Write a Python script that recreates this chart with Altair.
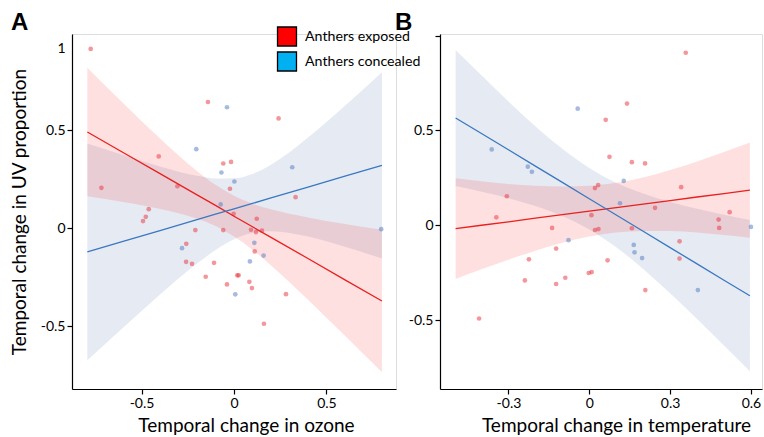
import altair as alt
import pandas as pd

FONT = "Lato"

# ---------------- Panel A : ozone ----------------
a_red_x = [-0.775, -0.717, -0.407, -0.306, -0.461, -0.477, -0.492, -0.141, -0.058, -0.016, -0.022,
           0.241, 0.333, -0.002, 0.123, -0.209, -0.058, 0.092, 0.119, 0.151, -0.258, -0.259, -0.227,
           -0.108, -0.153, 0.018, 0.025, -0.038, 0.083, 0.097, 0.112, 0.281, 0.162]
a_red_y = [0.915, 0.206, 0.366, 0.214, 0.097, 0.058, 0.036, 0.644, 0.330, 0.338, 0.201,
           0.560, 0.158, 0.073, 0.048, -0.010, -0.010, -0.008, -0.020, -0.013, -0.080, -0.172, -0.182,
           -0.177, -0.248, -0.241, -0.241, -0.287, -0.274, -0.306, -0.119, -0.337, -0.488]
a_blue_x = [-0.038, -0.204, -0.068, 0.002, 0.315, -0.072, 0.796, -0.281, 0.110, 0.160, 0.086, 0.007]
a_blue_y = [0.617, 0.403, 0.284, 0.238, 0.311, 0.121, -0.005, -0.102, -0.075, -0.140, -0.170, -0.338]

a_fit_x = [-0.793, -0.6, -0.4, -0.2, -0.1, 0.0, 0.1, 0.2, 0.4, 0.6, 0.8]
a_red_fit = [0.491, 0.386, 0.278, 0.170, 0.116, 0.061, 0.007, -0.047, -0.155, -0.264, -0.372]
a_red_hi = [0.819, 0.639, 0.458, 0.292, 0.221, 0.165, 0.125, 0.096, 0.055, 0.021, -0.008]
a_red_lo = [0.163, 0.133, 0.098, 0.048, 0.011, -0.043, -0.111, -0.190, -0.365, -0.549, -0.736]
a_blue_fit = [-0.121, -0.068, -0.012, 0.043, 0.071, 0.099, 0.126, 0.154, 0.210, 0.265, 0.321]
a_blue_hi = [0.432, 0.373, 0.315, 0.267, 0.254, 0.255, 0.277, 0.324, 0.463, 0.625, 0.796]
a_blue_lo = [-0.674, -0.508, -0.339, -0.181, -0.112, -0.057, -0.025, -0.016, -0.043, -0.095, -0.155]

# ---------------- Panel B : temperature ----------------
b_red_x = [0.358, 0.140, 0.061, 0.075, 0.158, 0.207, 0.033, 0.021, 0.341, -0.306, 0.244, 0.008,
           -0.345, 0.521, 0.480, -0.138, 0.021, 0.034, 0.158, 0.482, -0.123, -0.224, 0.068, -0.239,
           -0.123, -0.089, -0.002, 0.009, 0.208, 0.335, 0.335, -0.409]
b_red_y = [0.910, 0.642, 0.556, 0.361, 0.333, 0.326, 0.212, 0.196, 0.201, 0.153, 0.092, 0.053,
           0.042, 0.069, 0.030, -0.014, -0.025, -0.020, -0.016, -0.014, -0.123, -0.180, -0.185, -0.291,
           -0.310, -0.277, -0.252, -0.247, -0.342, -0.085, -0.176, -0.492]
b_blue_x = [-0.043, -0.362, -0.228, -0.213, 0.128, 0.114, 0.600, -0.077, 0.165, 0.168, 0.196, 0.403]
b_blue_y = [0.615, 0.400, 0.309, 0.282, 0.234, 0.116, -0.009, -0.079, -0.104, -0.143, -0.173, -0.342]

b_fit_x = [-0.496, -0.4, -0.3, -0.2, -0.1, 0.0, 0.1, 0.2, 0.3, 0.4, 0.5, 0.596]
b_red_fit = [-0.018, 0.000, 0.018, 0.037, 0.056, 0.074, 0.093, 0.111, 0.130, 0.149, 0.167, 0.185]
b_red_hi = [0.248, 0.232, 0.218, 0.208, 0.204, 0.208, 0.224, 0.252, 0.291, 0.336, 0.386, 0.436]
b_red_lo = [-0.284, -0.232, -0.182, -0.134, -0.092, -0.060, -0.038, -0.030, -0.031, -0.038, -0.052, -0.066]
b_blue_fit = [0.566, 0.484, 0.398, 0.312, 0.226, 0.140, 0.054, -0.032, -0.118, -0.204, -0.290, -0.372]
b_blue_hi = [0.925, 0.791, 0.653, 0.522, 0.403, 0.302, 0.224, 0.167, 0.123, 0.087, 0.055, 0.027]
b_blue_lo = [0.207, 0.177, 0.143, 0.102, 0.049, -0.022, -0.116, -0.231, -0.359, -0.495, -0.635, -0.771]

# ---------------- ticks / labels ----------------
a_xticks = [-0.5, 0, 0.5]
a_xlabels = ["-0.5", "0", "0.5"]
a_yticks = [-0.5, 0, 0.5, 0.915]
a_ylabels = ["-0.5", "0", "0.5", "1"]
b_xticks = [-0.3, 0, 0.3, 0.6]
b_xlabels = ["-0.3", "0", "0.3", "0.6"]
b_yticks = [-0.5, 0, 0.5, 1.0]
b_ylabels = ["-0.5", "0", "0.5", ""]

legend_labels = ["Anthers exposed", "Anthers concealed"]
legend_colors = ["#FF0000", "#00B0F0"]
panel_letters = ["A", "B"]

RED_LINE, BLUE_LINE = "#E8201E", "#3A78C0"
RED_PT, BLUE_PT = "#E8303A", "#5B84C4"
RED_BAND, BLUE_BAND = "#FF0000", "#3050A0"


def label_expr(vals, labs):
    expr = "''"
    for v, l in reversed(list(zip(vals, labs))):
        expr = f"abs(datum.value - ({v})) < 0.000001 ? '{l}' : ({expr})"
    return expr


def axis(vals, labs, title, title_pad, hide_above=None, title_x=None):
    kw = dict(values=vals, labelExpr=label_expr(vals, labs), title=title, grid=False,
              domainColor="black", domainWidth=1.2, tickColor="black", tickSize=5, tickWidth=1.2,
              labelColor="black", labelFont=FONT, labelFontSize=14, labelPadding=2, labelFlush=False,
              titleFont=FONT, titleFontSize=19, titleFontWeight="normal", titleColor="black",
              titlePadding=title_pad)
    if hide_above is not None:
        kw["tickOpacity"] = {"condition": {"test": f"datum.value > {hide_above}", "value": 0}, "value": 1}
    if title_x is not None:
        kw["titleX"] = title_x
    return alt.Axis(**kw)


def panel(fx, rf, rh, rl, bf, bh, bl, rx, ry, bx, by, xdom, ydom, xax, yax, w, h, letter, lx, legend=False):
    xs = alt.Scale(domain=xdom, nice=False, zero=False)
    ys = alt.Scale(domain=ydom, nice=False, zero=False)

    def X():
        return alt.X("x:Q", scale=xs, axis=xax)

    def Y(f):
        return alt.Y(f"{f}:Q", scale=ys, axis=yax)

    dr = pd.DataFrame({"x": fx, "fit": rf, "hi": rh, "lo": rl})
    db = pd.DataFrame({"x": fx, "fit": bf, "hi": bh, "lo": bl})
    pr = pd.DataFrame({"x": rx, "y": ry})
    pb = pd.DataFrame({"x": bx, "y": by})

    layers = [
        alt.Chart(db).mark_area(color=BLUE_BAND, opacity=0.12, interpolate="monotone").encode(x=X(), y=Y("lo"), y2="hi"),
        alt.Chart(dr).mark_area(color=RED_BAND, opacity=0.12, interpolate="monotone").encode(x=X(), y=Y("lo"), y2="hi"),
        alt.Chart(pr).mark_circle(size=22, opacity=0.5, color=RED_PT).encode(x=X(), y=Y("y")),
        alt.Chart(pb).mark_circle(size=22, opacity=0.55, color=BLUE_PT).encode(x=X(), y=Y("y")),
        alt.Chart(dr).mark_line(color=RED_LINE, strokeWidth=1.3).encode(x=X(), y=Y("fit")),
        alt.Chart(db).mark_line(color=BLUE_LINE, strokeWidth=1.3).encode(x=X(), y=Y("fit")),
        alt.Chart(pd.DataFrame({"t": [letter]})).mark_text(
            align="left", baseline="middle", font="Liberation Sans", fontSize=24, fontWeight="bold",
            color="black").encode(x=alt.value(lx), y=alt.value(-11), text="t:N"),
    ]
    if legend:
        for i, (lab, col) in enumerate(zip(legend_labels, legend_colors)):
            d = pd.DataFrame({"label": [lab]})
            yy = 2.5 + 25 * i
            layers.append(alt.Chart(d).mark_square(size=360, color=col, opacity=1, stroke="black",
                                                   strokeWidth=1.3).encode(x=alt.value(215), y=alt.value(yy)))
            layers.append(alt.Chart(d).mark_text(align="left", baseline="middle", font=FONT, fontSize=14.2,
                                                 color="black").encode(x=alt.value(233), y=alt.value(yy + 0.5),
                                                                       text="label:N"))
    return alt.layer(*layers).properties(width=w, height=h)


pa = panel(a_fit_x, a_red_fit, a_red_hi, a_red_lo, a_blue_fit, a_blue_hi, a_blue_lo,
           a_red_x, a_red_y, a_blue_x, a_blue_y, [-0.876, 0.876], [-0.821, 0.991],
           axis(a_xticks, a_xlabels, "Temporal change in ozone", 6, title_x=174),
           axis(a_yticks, a_ylabels, "Temporal change in UV proportion", 11, hide_above=0.9),
           324, 355, panel_letters[0], -61, legend=True)
pb = panel(b_fit_x, b_red_fit, b_red_hi, b_red_lo, b_blue_fit, b_blue_hi, b_blue_lo,
           b_red_x, b_red_y, b_blue_x, b_blue_y, [-0.554, 0.641], [-0.864, 1.009],
           axis(b_xticks, b_xlabels, "Temporal change in temperature", 6, title_x=176),
           axis(b_yticks, b_ylabels, None, 6),
           322, 355, panel_letters[1], -45)

chart = alt.hconcat(pa, pb, spacing=44, bounds="flush").properties(
    padding={"left": 9, "top": 10, "right": 0, "bottom": 0}
).configure_view(strokeWidth=0).configure(background="white")

chart.save("out.html", embed_options={"renderer": "svg", "actions": False})
